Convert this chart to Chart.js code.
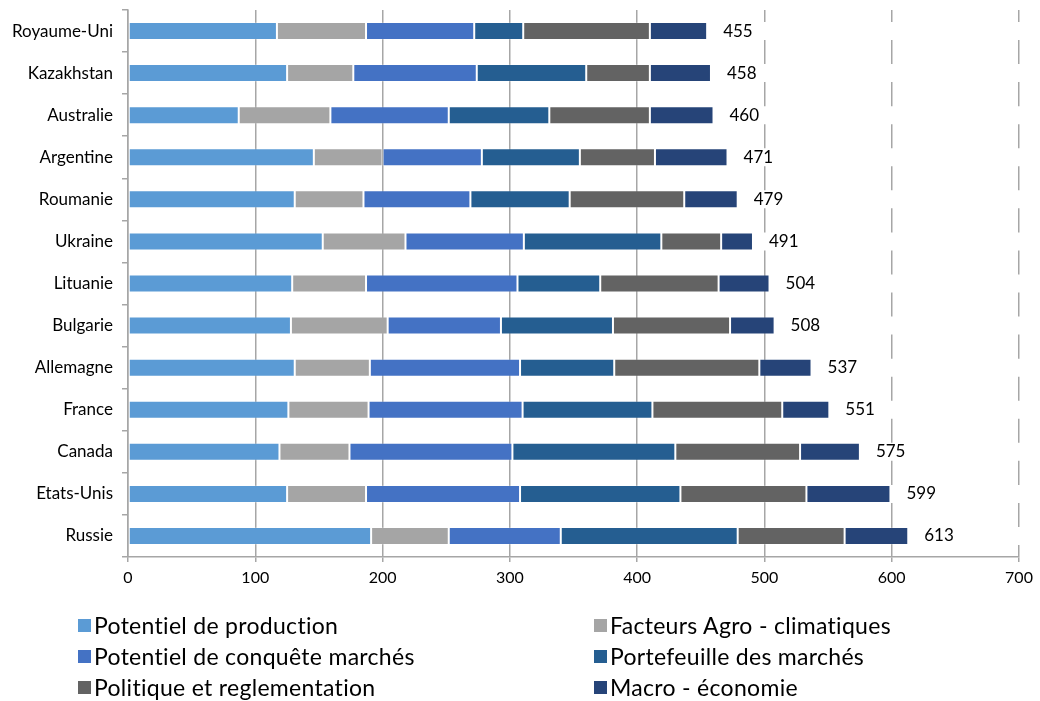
<!DOCTYPE html>
<html>
<head>
<meta charset="utf-8">
<script src="https://cdn.jsdelivr.net/npm/chart.js@4.4.1/dist/chart.umd.min.js"></script>
<style>
  html, body { margin: 0; padding: 0; background: #fff; }
  #wrap { position: relative; width: 1040px; height: 701px; }
  #c { position: absolute; left: 0; top: 0; }
  .lg { position: absolute; display: flex; align-items: center; font-family: Lato, "Noto Sans", sans-serif; font-size: 23px; letter-spacing: 0.3px; color: #000; white-space: nowrap; line-height: 1; }
  .lg span.box { display: inline-block; width: 13px; height: 13px; margin-right: 3px; }
</style>
</head>
<body>
<div id="wrap">
  <canvas id="c" width="1040" height="701"></canvas>
  <div id="legend"></div>
</div>
<script>
const categories = ['Royaume-Uni','Kazakhstan','Australie','Argentine','Roumanie','Ukraine','Lituanie','Bulgarie','Allemagne','France','Canada','Etats-Unis','Russie'];
const potentielProduction    = [117, 125,  87, 146, 131, 153, 129, 128, 131, 126, 119, 125, 191];
const facteursAgro           = [ 70,  52,  72,  54,  54,  65,  58,  76,  59,  63,  55,  62,  61];
const conqueteMarches        = [ 85,  97,  93,  78,  84,  93, 119,  89, 118, 121, 128, 121,  88];
const portefeuilleMarches    = [38.5, 86,  79,  77,  78, 108,  65,  88,  74, 102, 128, 126, 139];
const politiqueReglementation= [99.5, 50,  79,  59,  90,  47,  93,  92, 114, 102,  98,  99,  84];
const macroEconomie          = [ 45,  48,  50,  57,  42,  25,  40,  35,  41,  37,  47,  66,  50];
const totals                 = [455, 458, 460, 471, 479, 491, 504, 508, 537, 551, 575, 599, 613];
const xTicks = [0, 100, 200, 300, 400, 500, 600, 700];

const seriesNames = ['Potentiel de production','Facteurs Agro - climatiques','Potentiel de conquête marchés','Portefeuille des marchés','Politique et reglementation','Macro - économie'];
const seriesData = [potentielProduction, facteursAgro, conqueteMarches, portefeuilleMarches, politiqueReglementation, macroEconomie];
const seriesColors = ['#5B9BD5','#A5A5A5','#4472C4','#255E91','#636363','#264478'];

const X_MIN = xTicks[0], X_MAX = xTicks[xTicks.length - 1];
const GRID = '#a6a6a6';
const FONT = 'Lato, "Noto Sans", sans-serif';

const datasets = seriesNames.map((name, i) => ({
  label: name,
  data: seriesData[i],
  backgroundColor: seriesColors[i],
  borderColor: 'rgba(255,255,255,0.2)',
  borderWidth: 1,
  borderSkipped: false,
  barPercentage: 0.428,
  categoryPercentage: 1,
  stack: 's'
}));
// white "total" filler bar (hides gridlines behind the label area, like the source)
datasets.push({
  label: '__total',
  data: totals.map(t => X_MAX - t + 20),
  backgroundColor: '#ffffff',
  borderWidth: 0,
  barPercentage: 0.428,
  categoryPercentage: 1,
  stack: 's',
  clip: {left: 0, top: 0, right: 3, bottom: 0}
});

const totalLabels = {
  id: 'totalLabels',
  afterDatasetsDraw(chart) {
    const ctx = chart.ctx, xs = chart.scales.x, ys = chart.scales.y;
    ctx.save();
    ctx.font = '17px ' + FONT;
    ctx.fillStyle = '#000';
    ctx.textAlign = 'left';
    ctx.textBaseline = 'middle';
    totals.forEach((t, i) => {
      ctx.fillText(String(t), xs.getPixelForValue(t) + 16, ys.getPixelForValue(i));
    });
    ctx.restore();
  }
};

const chart = new Chart(document.getElementById('c'), {
  type: 'bar',
  data: { labels: categories, datasets },
  options: {
    indexAxis: 'y',
    responsive: false,
    animation: false,
    devicePixelRatio: 1,
    layout: { padding: { top: 10, right: 21, bottom: 104, left: 0 } },
    plugins: { legend: { display: false }, tooltip: { enabled: false } },
    scales: {
      x: {
        stacked: true,
        min: X_MIN, max: X_MAX,
        afterBuildTicks: s => { s.ticks = xTicks.map(v => ({ value: v })); },
        afterFit: s => { s.height = 40; s.paddingLeft = 0; s.paddingRight = 0; },
        grid: { color: GRID, lineWidth: 1.5, tickLength: 5, tickColor: GRID, tickWidth: 1.5 },
        border: { display: true, color: GRID, width: 1.5 },
        ticks: { font: { family: FONT, size: 16 }, color: '#000', padding: 6 }
      },
      y: {
        stacked: true,
        afterFit: s => { s.width = 128; s.paddingTop = 0; s.paddingBottom = 0; },
        grid: { drawOnChartArea: false, offset: true, tickLength: 6, color: GRID, lineWidth: 1.5 },
        border: { display: true, color: GRID, width: 1.5 },
        ticks: { font: { family: FONT, size: 17 }, color: '#000', padding: 9 }
      }
    }
  },
  plugins: [totalLabels]
});

// HTML legend built from the chart's datasets (2 columns)
const legend = document.getElementById('legend');
const colX = [78, 594], rowY = [626, 657, 688];
chart.data.datasets.filter(d => d.label !== '__total').forEach((d, i) => {
  const el = document.createElement('div');
  el.className = 'lg';
  el.style.left = colX[i % 2] + 'px';
  el.style.top = (rowY[Math.floor(i / 2)] - 13) + 'px';
  el.style.height = '24px';
  el.innerHTML = '<span class="box" style="background:' + d.backgroundColor + '"></span>';
  el.appendChild(document.createTextNode(d.label));
  legend.appendChild(el);
});
</script>
</body>
</html>
